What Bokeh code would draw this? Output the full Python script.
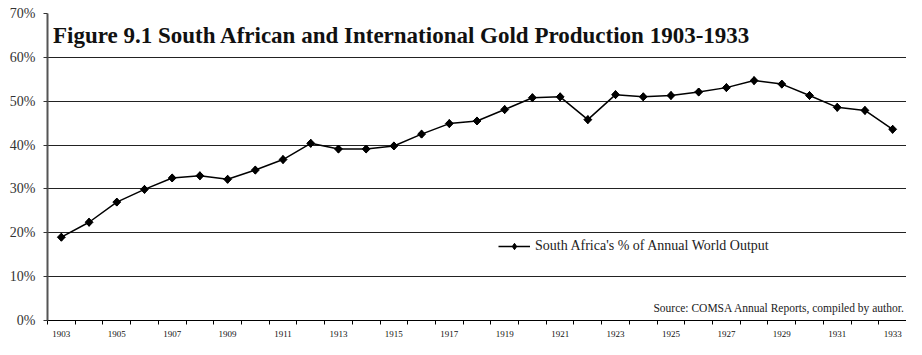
from bokeh.plotting import figure
from bokeh.models import (Range1d, FixedTicker, PrintfTickFormatter, Label, Legend, LegendItem)
from bokeh.embed import file_html
from bokeh.resources import INLINE
import math

# ---- data ----
years = list(range(1903, 1934))
sa_share = [19.0, 22.4, 27.0, 29.9, 32.5, 33.0, 32.2, 34.3, 36.7, 40.4,
            39.1, 39.1, 39.8, 42.5, 44.9, 45.5, 48.1, 50.8, 51.0, 45.8,
            51.5, 51.0, 51.3, 52.1, 53.1, 54.7, 53.9, 51.3, 48.6, 47.9, 43.6]
x_tick_labels = [str(y) for y in range(1903, 1934, 2)]
y_ticks = [0, 10, 20, 30, 40, 50, 60, 70]
series_name = "South Africa's % of Annual World Output"
title_text = "Figure 9.1 South African and International Gold Production 1903-1933"
source_text = "Source: COMSA Annual Reports, compiled by author."

FONT = "Liberation Serif"

p = figure(width=906, height=339, output_backend="svg", toolbar_location=None,
           x_range=Range1d(1902.5, 1933.5), y_range=Range1d(0, 70),
           min_border_left=47, min_border_right=0, min_border_top=13, min_border_bottom=17)
p.outline_line_color = None
p.background_fill_color = "white"

# x axis: labels on odd years, tick marks at category boundaries
p.xaxis.ticker = FixedTicker(ticks=[int(t) for t in x_tick_labels],
                             minor_ticks=[y - 0.5 for y in years] + [years[-1] + 0.5])
p.xaxis.major_tick_line_color = None
p.xaxis.minor_tick_line_color = "black"
p.xaxis.minor_tick_out = 4
p.xaxis.minor_tick_in = 0
p.xaxis.axis_line_color = "black"
p.xaxis.axis_line_width = 1.2
p.xaxis.major_label_text_font = FONT
p.xaxis.major_label_text_font_size = "9px"
p.xaxis.major_label_text_color = "#111111"
p.xaxis.major_label_standoff = 4

# y axis
p.yaxis.ticker = FixedTicker(ticks=y_ticks, minor_ticks=[])
p.yaxis.formatter = PrintfTickFormatter(format="%d%%")
p.yaxis.major_tick_out = 4
p.yaxis.major_tick_in = 0
p.yaxis.major_tick_line_color = "#333333"
p.yaxis.axis_line_color = "#555555"
p.yaxis.axis_line_width = 2
p.yaxis.major_label_text_font = FONT
p.yaxis.major_label_text_font_size = "14px"
p.yaxis.major_label_text_color = "#333333"
p.yaxis.major_label_standoff = 8

p.xgrid.grid_line_color = None
p.ygrid.ticker = FixedTicker(ticks=y_ticks)
p.ygrid.grid_line_color = "#222222"
p.ygrid.grid_line_width = 1

r_line = p.line(years, sa_share, line_color="black", line_width=1.5)
# diamond key glyph (hidden beneath the rotated squares, used for the legend)
r_key = p.scatter(years, sa_share, marker="diamond", size=8,
                  fill_color="black", line_color="black")
r_pts = p.scatter(years, sa_share, marker="square", size=5.6, angle=math.pi / 4,
                  fill_color="black", line_color="black")

legend = Legend(items=[LegendItem(label=series_name, renderers=[r_line, r_key])],
                location=(451, 66), orientation="vertical",
                border_line_color=None, background_fill_alpha=0,
                padding=0, margin=0, glyph_width=32, glyph_height=16,
                label_standoff=5, label_text_font=FONT, label_text_font_size="14px",
                label_text_color="#222222")
p.add_layout(legend, "center")

p.add_layout(Label(x=1902.7, y=65.0, text=title_text, text_font=FONT,
                   text_font_style="bold", text_font_size="23px",
                   text_baseline="middle", text_color="#111111"))
p.add_layout(Label(x=1933.45, y=2.8, text=source_text, text_font=FONT,
                   text_font_size="11.5px", text_align="right",
                   text_baseline="middle", text_color="#222222"))

open("out.html", "w").write(file_html(p, INLINE))
